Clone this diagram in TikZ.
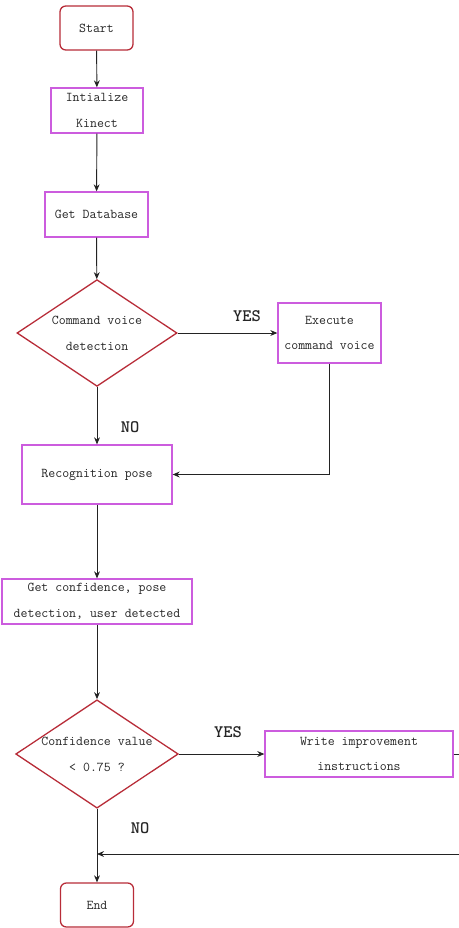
\documentclass[tikz,border=0pt]{standalone}
\usepackage{fontspec}
\usetikzlibrary{shapes.geometric,arrows.meta}
\definecolor{termred}{RGB}{184,44,56}
\definecolor{procpink}{RGB}{204,92,222}
\definecolor{linegray}{RGB}{35,35,35}
\tikzset{
  boxtext/.style={font=\ttfamily\fontsize{11.5}{22}\selectfont, align=center, text=black!85},
  terminal/.style={boxtext, draw=termred, line width=1.1pt, rounded corners=5pt,
    minimum width=2.19cm, minimum height=1.32cm, inner sep=0pt},
  process/.style={boxtext, draw=procpink, line width=1.1pt, inner sep=0pt},
  decision/.style={boxtext, draw=termred, line width=1.1pt, shape=diamond, aspect=1.5,
    inner sep=0pt, minimum width=4.8cm, minimum height=3.2cm},
  flow/.style={draw=linegray, line width=0.8pt, -{Stealth[length=6pt,width=5pt]}},
  answer/.style={font=\ttfamily\bfseries\fontsize{15}{15}\selectfont, text=black!85},
}
\begin{document}
\begin{tikzpicture}[x=0.03cm, y=-0.03cm]
  \path[use as bounding box] (0,0) rectangle (459,928);
  \fill[white] (0,0) rectangle (459,928);
  \clip (0,0) rectangle (459,928);

  % nodes of the flow
  \node[terminal] (start) at (96.5,28) {Start};
  \node[process, minimum width=2.76cm, minimum height=1.35cm] (init) at (97,110.5) {Intialize\\Kinect};
  \node[process, minimum width=3.09cm, minimum height=1.35cm] (db) at (96.5,214.5) {Get Database};
  \node[decision] (cmd) at (97,333) {Command voice\\detection};
  \node[process, minimum width=3.09cm, minimum height=1.8cm] (exec) at (329.5,333) {Execute\\command voice};
  \node[process, minimum width=4.5cm, minimum height=1.77cm] (rec) at (97,474.5) {Recognition pose};
  \node[process, minimum width=5.7cm, minimum height=1.35cm] (conf) at (97,601.5) {Get confidence, pose\\detection, user detected};
  \node[decision] (conf75) at (97,754) {Confidence value\\< 0.75 ?};
  \node[process, minimum width=5.64cm, minimum height=1.38cm] (write) at (359,754) {Write improvement\\instructions};
  \node[terminal] (end) at (97,905) {End};

  % answer labels
  \node[answer] (yes1) at (247,316) {YES};
  \node[answer] (no1) at (130,427) {NO};
  \node[answer] (yes2) at (228,732) {YES};
  \node[answer] (no2) at (140,828) {NO};

  % return path from the improvement box
  \coordinate (outer) at (475,854);
  \coordinate (join) at (97,854);

  % connectors
  \draw[flow] (start) -- (init);
  \draw[flow] (init) -- (db);
  \draw[flow] (db) -- (cmd);
  \draw[flow] (cmd.east) -- (exec.west);
  \draw[flow] (cmd.south) -- (rec.north);
  \draw[flow] (exec.south) |- (rec.east);
  \draw[flow] (rec) -- (conf);
  \draw[flow] (conf) -- (conf75);
  \draw[flow] (conf75.east) -- (write.west);
  \draw[flow] (conf75.south) -- (end.north);
  \draw[flow] (write.east) -- (outer |- write.east) -- (outer) -- (join);
\end{tikzpicture}
\end{document}
